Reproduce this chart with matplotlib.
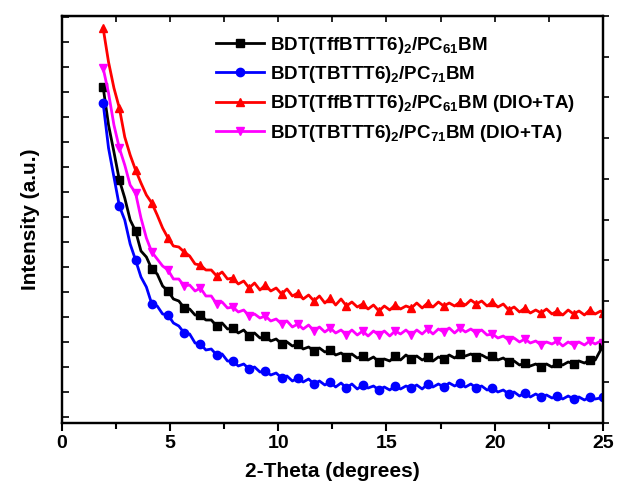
import numpy as np
import matplotlib
matplotlib.use('Agg')
import matplotlib.pyplot as plt
from matplotlib.ticker import MultipleLocator, NullFormatter

plt.rcParams['font.family'] = 'Liberation Sans'
plt.rcParams['font.weight'] = 'bold'
plt.rcParams['mathtext.fontset'] = 'custom'
plt.rcParams['mathtext.rm'] = 'Liberation Sans:bold'
plt.rcParams['mathtext.default'] = 'rm'

# 2-theta sampling grid (degrees)
two_theta = np.append(np.arange(1.9, 24.91, 0.25), 25.0)

# Intensity (a.u.) for each film
tff_pc61 = [330, 292, 265, 237, 219, 197, 186, 166, 160, 148, 143, 131, 126, 118, 116, 109,
            108, 102, 102, 97, 97, 91, 94, 88, 89, 84, 87, 81, 84, 79, 81, 76, 78, 73, 75, 71,
            73, 68, 70, 66, 69, 65, 67, 62, 64, 60, 63, 59, 61, 57, 60, 55, 58, 56, 61, 57, 62,
            58, 61, 57, 60, 56, 60, 58, 62, 59, 63, 61, 63, 60, 62, 59, 61, 57, 59, 55, 56, 52,
            54, 51, 53, 50, 53, 50, 54, 52, 55, 53, 56, 54, 57, 57, 67, 72]
tb_pc71 = [314, 269, 240, 211, 197, 173, 157, 140, 130, 113, 111, 103, 102, 94, 91, 84, 83,
           74, 73, 67, 68, 62, 63, 56, 56, 51, 53, 48, 50, 45, 46, 42, 44, 39, 41, 36, 39, 35,
           38, 33, 36, 32, 35, 30, 34, 29, 33, 28, 32, 29, 31, 27, 30, 27, 31, 28, 31, 29, 32,
           28, 33, 30, 33, 30, 34, 31, 34, 30, 33, 29, 31, 27, 29, 25, 27, 23, 25, 21, 24, 20,
           23, 20, 22, 19, 21, 18, 21, 18, 20, 17, 20, 18, 19, 20]
tff_pc61_add = [389, 355, 329, 309, 280, 262, 247, 234, 222, 214, 202, 189, 179, 171, 170, 165,
                161, 153, 152, 147, 147, 141, 145, 138, 139, 133, 136, 129, 134, 127, 132, 126,
                129, 123, 128, 121, 124, 118, 122, 116, 121, 114, 119, 112, 118, 111, 115, 110,
                113, 108, 112, 106, 111, 107, 112, 108, 111, 109, 114, 109, 114, 110, 115, 111,
                114, 111, 115, 112, 117, 113, 116, 111, 115, 110, 113, 107, 110, 105, 109, 104,
                107, 104, 108, 103, 106, 102, 107, 103, 106, 102, 107, 103, 106, 104]
tb_pc71_add = [349, 324, 292, 269, 252, 232, 224, 199, 179, 165, 158, 151, 147, 138, 138, 131,
               132, 126, 129, 121, 121, 113, 115, 109, 110, 105, 107, 101, 103, 99, 101, 96, 98,
               93, 96, 90, 93, 88, 92, 86, 90, 85, 89, 84, 87, 82, 87, 82, 86, 81, 86, 82, 86,
               81, 86, 83, 87, 82, 87, 83, 88, 83, 88, 85, 89, 84, 89, 85, 88, 84, 87, 82, 83,
               79, 81, 77, 79, 75, 78, 74, 76, 72, 75, 73, 76, 71, 75, 72, 75, 72, 76, 73, 76, 74]

labels = [r'BDT(TffBTTT6)$_{2}$/PC$_{61}$BM',
          r'BDT(TBTTT6)$_{2}$/PC$_{71}$BM',
          r'BDT(TffBTTT6)$_{2}$/PC$_{61}$BM (DIO+TA)',
          r'BDT(TBTTT6)$_{2}$/PC$_{71}$BM (DIO+TA)']
series = [tff_pc61, tb_pc71, tff_pc61_add, tb_pc71_add]
colors = ['black', 'blue', 'red', 'magenta']
markers = ['s', 'o', '^', 'v']

fig = plt.figure(figsize=(6.19, 4.93), dpi=100)
ax = fig.add_axes([0.1002, 0.142, 0.8736, 0.8255])

for y, lab, c, m in zip(series, labels, colors, markers):
    ax.plot(two_theta, y, color=c, lw=2.0, marker=m, markersize=6,
            markevery=3, label=lab)

ax.set_xlim(0, 25)
ax.set_ylim(-6, 401)
ax.xaxis.set_major_locator(MultipleLocator(5))
ax.xaxis.set_minor_locator(MultipleLocator(2.5))
ax.yaxis.set_major_locator(MultipleLocator(25))
ax.yaxis.set_major_formatter(NullFormatter())
ax.tick_params(axis='x', which='major', direction='out', length=6, width=1.5,
               labelsize=14, pad=3)
ax.tick_params(axis='x', which='minor', direction='out', length=4, width=1.5)
ax.tick_params(axis='y', which='major', direction='in', length=5, width=1.2)
for s in ax.spines.values():
    s.set_linewidth(1.6)

# mirrored top and right axes
top = ax.secondary_xaxis('top')
top.xaxis.set_major_locator(MultipleLocator(2.5))
top.xaxis.set_major_formatter(NullFormatter())
top.tick_params(direction='in', length=4, width=1.2)
right = ax.twinx()
right.set_ylim(0, 10)
right.yaxis.set_major_locator(MultipleLocator(1))
right.yaxis.set_major_formatter(NullFormatter())
right.tick_params(direction='out', length=4, width=1.2)
for s in right.spines.values():
    s.set_linewidth(1.6)

for t in ax.get_xticklabels():
    t.set_fontweight('bold')

ax.set_xlabel('2-Theta (degrees)', fontsize=15, fontweight='bold', labelpad=7)
ax.set_ylabel('Intensity (a.u.)', fontsize=15, fontweight='bold', labelpad=12)

leg = ax.legend(loc='upper left', bbox_to_anchor=(0.27, 0.973), frameon=False,
                fontsize=13.5, handlelength=2.6, handletextpad=0.3, labelspacing=0.45,
                borderaxespad=0)
for t in leg.get_texts():
    t.set_fontweight('bold')

fig.savefig('out.png', dpi=100)
